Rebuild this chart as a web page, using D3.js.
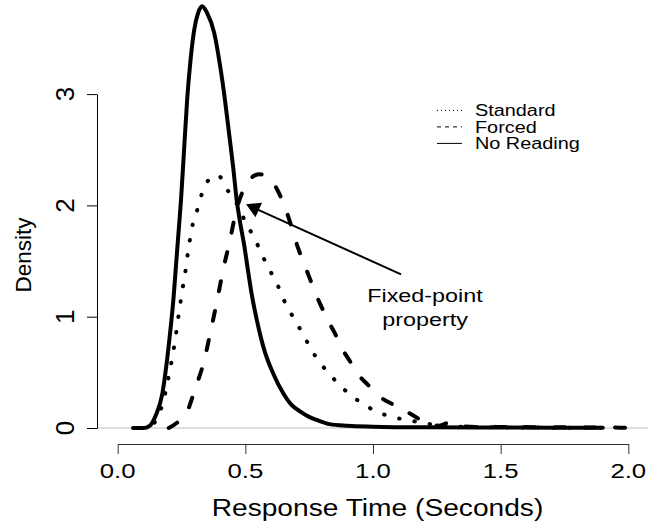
<!DOCTYPE html>
<html>
<head>
<meta charset="utf-8">
<script src="https://cdn.jsdelivr.net/npm/d3@7"></script>
<style>
  body { margin: 0; background: #fff; }
  text { font-family: "Liberation Sans", Arial, Helvetica, sans-serif; fill: #000; }
</style>
</head>
<body>
<div id="chart"></div>
<script>
// response time (s) and density for each condition
const noReadingT = [0.06, 0.10, 0.125, 0.15, 0.175, 0.19, 0.205, 0.218, 0.228, 0.238, 0.248, 0.26, 0.272, 0.285, 0.30, 0.315, 0.331, 0.35, 0.378, 0.40, 0.42, 0.436, 0.452, 0.466, 0.48, 0.495, 0.51, 0.525, 0.544, 0.56, 0.577, 0.609, 0.649, 0.68, 0.714, 0.75, 0.78, 0.83, 0.90, 1.00, 1.20, 1.50, 1.90];
const noReadingD = [0, 0, 0.02, 0.12, 0.31, 0.55, 0.85, 1.15, 1.45, 1.75, 2.05, 2.5, 2.95, 3.3, 3.58, 3.73, 3.79, 3.73, 3.55, 3.27, 2.95, 2.65, 2.35, 2.05, 1.84, 1.65, 1.42, 1.2, 0.98, 0.82, 0.68, 0.49, 0.31, 0.21, 0.15, 0.10, 0.072, 0.035, 0.02, 0.012, 0.006, 0.004, 0.002];

const standardT = [0.09, 0.13, 0.15, 0.166, 0.183, 0.196, 0.207, 0.218, 0.227, 0.235, 0.244, 0.253, 0.263, 0.271, 0.28, 0.29, 0.307, 0.322, 0.345, 0.37, 0.392, 0.41, 0.427, 0.445, 0.463, 0.49, 0.518, 0.547, 0.573, 0.60, 0.629, 0.653, 0.681, 0.714, 0.743, 0.773, 0.812, 0.855, 0.90, 0.952, 1.012, 1.073, 1.141, 1.208, 1.30, 1.50, 1.90];
const standardD = [0, 0.02, 0.07, 0.15, 0.28, 0.42, 0.55, 0.69, 0.82, 0.955, 1.10, 1.24, 1.37, 1.51, 1.65, 1.79, 1.92, 2.05, 2.19, 2.255, 2.27, 2.23, 2.15, 2.09, 2.03, 1.90, 1.78, 1.65, 1.52, 1.40, 1.27, 1.14, 1.02, 0.89, 0.77, 0.65, 0.53, 0.42, 0.32, 0.23, 0.15, 0.10, 0.07, 0.04, 0.015, 0.006, 0.002];

const forcedT = [0.20, 0.231, 0.27, 0.303, 0.338, 0.365, 0.389, 0.412, 0.44, 0.463, 0.48, 0.50, 0.53, 0.555, 0.584, 0.623, 0.649, 0.668, 0.687, 0.706, 0.726, 0.753, 0.773, 0.792, 0.825, 0.851, 0.877, 0.907, 0.942, 0.981, 1.027, 1.082, 1.145, 1.21, 1.26, 1.30, 1.34, 1.40, 1.44, 1.48, 1.60, 1.80, 2.01];
const forcedD = [0, 0.045, 0.135, 0.35, 0.60, 0.88, 1.14, 1.41, 1.69, 1.94, 2.07, 2.17, 2.26, 2.28, 2.26, 2.15, 2.02, 1.90, 1.76, 1.62, 1.50, 1.34, 1.22, 1.12, 0.96, 0.85, 0.72, 0.61, 0.48, 0.386, 0.28, 0.207, 0.13, 0.045, 0.02, 0.05, 0.02, 0.01, 0.025, 0.01, 0.008, 0.005, 0.003];

const xTicks = [0, 0.5, 1, 1.5, 2];
const xTickLabels = ["0.0", "0.5", "1.0", "1.5", "2.0"];
const yTicks = [0, 1, 2, 3];
const legendLabels = ["Standard", "Forced", "No Reading"];
const arrowFrom = [1.11, 1.38];
const arrowTo = [0.503, 2.01];
const noteLines = ["Fixed-point", "property"];

const W = 657, H = 523;

const svg = d3.select("#chart").append("svg")
    .attr("width", W)
    .attr("height", H);

svg.append("rect").attr("width", W).attr("height", H).attr("fill", "#fff");

const x = d3.scaleLinear().domain([0, 2]).range([117.7, 628.3]);
const y = d3.scaleLinear().domain([0, 3]).range([428, 94.1]);

// text in the picture is a bit wider than the font, so stretch it
function stretch(sel, k) {
    sel.each(function() {
        const w = this.getComputedTextLength();
        d3.select(this).attr("textLength", w * k).attr("lengthAdjust", "spacingAndGlyphs");
    });
}

// grey zero line across the plot region
svg.append("line")
    .attr("x1", x(-0.081)).attr("x2", x(2.077))
    .attr("y1", y(0)).attr("y2", y(0))
    .attr("stroke", "#bebebe")
    .attr("stroke-width", 1.2);

// Axes
const yAxis = svg.append("g")
    .attr("transform", "translate(97,0)")
    .call(d3.axisLeft(y).tickValues(yTicks).tickSize(10).tickSizeOuter(0).tickFormat(""));
yAxis.selectAll("path, line").attr("stroke", "#000");

const xAxis = svg.append("g")
    .attr("transform", "translate(0,444)")
    .call(d3.axisBottom(x).tickValues(xTicks).tickSize(10).tickSizeOuter(0).tickFormat(""));
xAxis.selectAll("path, line").attr("stroke", "#333");

svg.selectAll(".ylab")
    .data(yTicks)
    .enter()
    .append("text")
    .attr("class", "ylab")
    .attr("transform", d => `translate(74,${y(d)}) rotate(-90)`)
    .attr("text-anchor", "middle")
    .style("font-size", "26px")
    .text(d => d);

svg.selectAll(".xlab")
    .data(xTicks)
    .enter()
    .append("text")
    .attr("class", "xlab")
    .attr("x", d => x(d))
    .attr("y", 477.5)
    .attr("text-anchor", "middle")
    .style("font-size", "19.5px")
    .text((d, i) => xTickLabels[i])
    .call(stretch, 1.32);

svg.append("text")
    .attr("x", 377.5)
    .attr("y", 516)
    .attr("text-anchor", "middle")
    .style("font-size", "24.7px")
    .text("Response Time (Seconds)")
    .call(stretch, 1.14);

svg.append("text")
    .attr("transform", "translate(30.5,255) rotate(-90)")
    .attr("text-anchor", "middle")
    .style("font-size", "22.5px")
    .text("Density");

// Curves
const line = d3.line()
    .x(d => x(d[0]))
    .y(d => y(d[1]))
    .curve(d3.curveMonotoneX);

const series = [
    { t: standardT, d: standardD, dash: "0.5,15" },
    { t: forcedT, d: forcedD, dash: "10,20" },
    { t: noReadingT, d: noReadingD, dash: null }
];

svg.selectAll(".curve")
    .data(series)
    .enter()
    .append("path")
    .attr("class", "curve")
    .attr("d", s => line(d3.zip(s.t, s.d)))
    .attr("fill", "none")
    .attr("stroke", "#000")
    .attr("stroke-width", 4)
    .attr("stroke-linecap", "round")
    .attr("stroke-linejoin", "round")
    .attr("stroke-dasharray", s => s.dash);

// Arrow pointing at the crossing point
const ax0 = x(arrowFrom[0]), ay0 = y(arrowFrom[1]);
const ax1 = x(arrowTo[0]), ay1 = y(arrowTo[1]);
const ang = Math.atan2(ay1 - ay0, ax1 - ax0);
const headLen = 16, headAng = Math.PI / 6;

svg.append("line")
    .attr("x1", ax0).attr("y1", ay0)
    .attr("x2", ax1 - Math.cos(ang) * headLen * 0.8)
    .attr("y2", ay1 - Math.sin(ang) * headLen * 0.8)
    .attr("stroke", "#000")
    .attr("stroke-width", 2);

svg.append("path")
    .attr("d", d3.line()([
        [ax1, ay1],
        [ax1 - headLen * Math.cos(ang - headAng), ay1 - headLen * Math.sin(ang - headAng)],
        [ax1 - headLen * Math.cos(ang + headAng), ay1 - headLen * Math.sin(ang + headAng)]
    ]) + "Z")
    .attr("fill", "#000");

svg.selectAll(".note")
    .data(noteLines)
    .enter()
    .append("text")
    .attr("class", "note")
    .attr("x", 425)
    .attr("y", (d, i) => 301.7 + i * 24.5)
    .attr("text-anchor", "middle")
    .style("font-size", "18.7px")
    .text(d => d)
    .call(stretch, 1.25);

// Legend (rows are tight, so slightly smaller type stretched to the same width)
const legendDash = ["1,3", "4,4", null];
const rowY = (i) => 116.4 + i * 16.5;

svg.selectAll(".key")
    .data(legendLabels)
    .enter()
    .append("line")
    .attr("class", "key")
    .attr("x1", 437).attr("x2", 462)
    .attr("y1", (d, i) => rowY(i) - 6)
    .attr("y2", (d, i) => rowY(i) - 6)
    .attr("stroke", "#000")
    .attr("stroke-width", 1)
    .attr("stroke-dasharray", (d, i) => legendDash[i]);

svg.selectAll(".legend-text")
    .data(legendLabels)
    .enter()
    .append("text")
    .attr("class", "legend-text")
    .attr("x", 475)
    .attr("y", (d, i) => rowY(i))
    .style("font-size", "16px")
    .text(d => d)
    .call(stretch, 1.24);
</script>
</body>
</html>
